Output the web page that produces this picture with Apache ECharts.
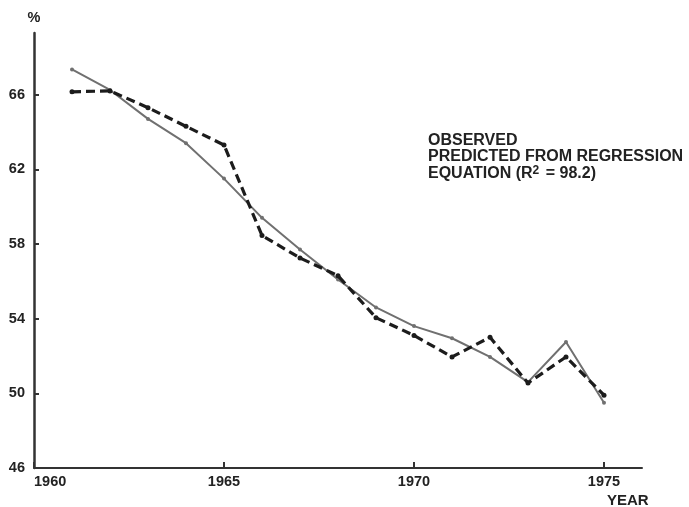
<!DOCTYPE html>
<html>
<head>
<meta charset="utf-8">
<title>Observed vs predicted, 1960-1975</title>
<script src="https://cdn.jsdelivr.net/npm/echarts@6/dist/echarts.min.js"></script>
<style>
  html, body { margin: 0; padding: 0; background: #ffffff; }
  #chart { width: 689px; height: 507px; }
</style>
</head>
<body>
<div id="chart"></div>
<script>
// Percentages by year
var years = [1961, 1962, 1963, 1964, 1965, 1966, 1967, 1968, 1969, 1970, 1971, 1972, 1973, 1974, 1975];
var observed = [66.15, 66.2, 65.3, 64.3, 63.3, 58.45, 57.25, 56.3, 54.05, 53.1, 51.95, 53.0, 50.55, 51.95, 49.9];
var predicted = [67.35, 66.25, 64.7, 63.4, 61.5, 59.4, 57.7, 56.1, 54.6, 53.6, 52.95, 51.95, 50.6, 52.75, 49.5];
var yTicks = [46, 50, 54, 58, 62, 66];
var xTicks = [1960, 1965, 1970, 1975];

var seriesNames = ['OBSERVED', 'PREDICTED FROM REGRESSION'];

function pairs(xs, ys) {
  return xs.map(function (x, i) { return [x, ys[i]]; });
}

var FONT = '"Liberation Sans", Arial, Helvetica, sans-serif';
var INK = '#222222';

var chart = echarts.init(document.getElementById('chart'), null, { renderer: 'canvas' });

chart.setOption({
  backgroundColor: '#ffffff',
  animation: false,
  textStyle: { fontFamily: FONT },
  grid: { left: 34, right: 47, top: 33, bottom: 39, containLabel: false },
  legend: {
    orient: 'vertical',
    left: 418,
    top: 127,
    icon: 'none',
    itemWidth: 0,
    itemHeight: 10,
    itemGap: 0,
    selectedMode: false,
    data: seriesNames,
    formatter: function (name) {
      if (name === seriesNames[1]) {
        return name + '\nEQUATION (R{sup|2} = 98.2)';
      }
      return name;
    },
    textStyle: {
      fontFamily: FONT,
      fontWeight: 'bold',
      fontSize: 16,
      lineHeight: 16.5,
      color: INK,
      rich: {
        sup: { fontFamily: FONT, fontWeight: 'bold', fontSize: 12, color: INK, verticalAlign: 'top', lineHeight: 16.5, padding: [0, 2, 9, 0] }
      }
    }
  },
  xAxis: {
    type: 'value',
    min: 1960,
    max: 1976,
    interval: 5,
    axisLine: { show: true, lineStyle: { color: '#333333', width: 2 } },
    axisTick: { show: true, inside: true, length: 6, lineStyle: { color: '#333333', width: 2 } },
    splitLine: { show: false },
    axisLabel: {
      show: true,
      margin: 6,
      color: INK,
      fontFamily: FONT,
      fontWeight: 'bold',
      fontSize: 14.5,
      showMaxLabel: false,
      alignMinLabel: 'left',
      formatter: function (v) { return xTicks.indexOf(v) >= 0 ? String(v) : ''; }
    }
  },
  yAxis: {
    type: 'value',
    min: 46,
    max: 69.3,
    interval: 4,
    name: '%',
    nameLocation: 'end',
    nameGap: 8,
    nameTextStyle: { color: INK, fontFamily: FONT, fontWeight: 'bold', fontSize: 14.5, align: 'center' },
    axisLine: { show: true, lineStyle: { color: '#333333', width: 2.5 } },
    axisTick: { show: true, inside: true, length: 5, lineStyle: { color: '#333333', width: 2 } },
    splitLine: { show: false },
    axisLabel: {
      show: true,
      margin: 9,
      color: INK,
      fontFamily: FONT,
      fontWeight: 'bold',
      fontSize: 14.5,
      showMaxLabel: false,
      formatter: function (v) { return yTicks.indexOf(v) >= 0 ? String(v) : ''; }
    }
  },
  graphic: [
    {
      type: 'text',
      left: 607,
      top: 493,
      style: { text: 'YEAR', fill: INK, font: 'bold 15px ' + FONT }
    }
  ],
  series: [
    {
      name: seriesNames[1],
      type: 'line',
      data: pairs(years, predicted),
      symbol: 'circle',
      symbolSize: 4,
      showSymbol: true,
      lineStyle: { color: '#707070', width: 2 },
      itemStyle: { color: '#707070' },
      z: 2
    },
    {
      name: seriesNames[0],
      type: 'line',
      data: pairs(years, observed),
      symbol: 'circle',
      symbolSize: 5,
      showSymbol: true,
      lineStyle: { color: '#1c1c1c', width: 3.2, type: [9, 5] },
      itemStyle: { color: '#1c1c1c' },
      z: 3
    }
  ]
});
</script>
</body>
</html>
